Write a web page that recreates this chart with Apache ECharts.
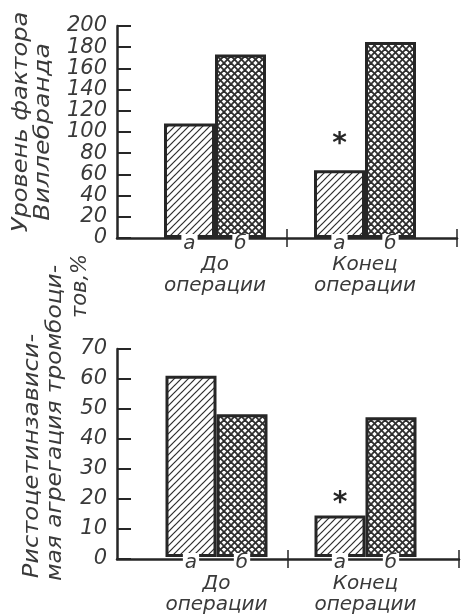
<!DOCTYPE html>
<html>
<head>
<meta charset="utf-8">
<script src="https://cdn.jsdelivr.net/npm/echarts@6/dist/echarts.min.js"></script>
<style>
html,body{margin:0;padding:0;background:#fff;}
#chart{width:461px;height:615px;}
</style>
</head>
<body>
<div id="chart"></div>
<script>
// ---- data ----
const categories = ['До\nоперации', 'Конец\nоперации'];
const barLetters = ['а', 'б'];
const vwfA = [108, 64];      // уровень фактора Виллебранда, а
const vwfB = [173, 185];     // уровень фактора Виллебранда, б
const ristA = [61, 14];      // ристоцетинзависимая агрегация, а
const ristB = [48, 47];      // ристоцетинзависимая агрегация, б
const vwfStar = { category: 1, value: 94 };
const ristStar = { category: 1, value: 20 };
const vwfAxis = { min: 0, max: 200, step: 20 };
const ristAxis = { min: 0, max: 70, step: 10 };
const vwfTitle = ['Уровень фактора', 'Виллебранда'];
const ristTitle = ['Ристоцетинзависи-', 'мая агрегация тромбоци-', 'тов,%'];

// ---- styles ----
const INK = '#262626';
const TXT = '#3a3a3a';
const FONT = 'DejaVu Sans';

function hatch(size, lw, both) {
  const c = document.createElement('canvas');
  c.width = c.height = size;
  const g = c.getContext('2d');
  g.fillStyle = '#fff'; g.fillRect(0, 0, size, size);
  g.strokeStyle = '#2e2e2e'; g.lineWidth = lw;
  const line = (x1, y1, x2, y2) => { g.beginPath(); g.moveTo(x1, y1); g.lineTo(x2, y2); g.stroke(); };
  line(-1, size + 1, size + 1, -1); line(-2, 2, 2, -2); line(size - 2, size + 2, size + 2, size - 2);
  if (both) { line(-1, -1, size + 1, size + 1); line(size - 2, -2, size + 2, 2); line(-2, size - 2, 2, size + 2); }
  return c;
}
const fillA = { image: hatch(7, 1.2, false), repeat: 'repeat' };
const fillB = { image: hatch(7, 1.8, true), repeat: 'repeat' };

const grids = [
  { left: 117, right: 4, top: 26, height: 212 },   // top axes
  { left: 140, right: 21, top: 26, height: 212 },  // top bars
  { left: 117, right: 2, top: 349, height: 210 },  // bottom axes
  { left: 142, right: 21, top: 349, height: 210 }  // bottom bars
];

function frameX(gi, inside, showLine) {
  return {
    type: 'value', gridIndex: gi, position: 'bottom', min: 0, max: 2, interval: 1,
    axisLine: { show: showLine, lineStyle: { color: INK, width: 2.5 } },
    axisTick: { show: true, inside: inside, length: 9, customValues: [1, 2], lineStyle: { color: INK, width: 1.5 } },
    axisLabel: { show: false }, splitLine: { show: false }
  };
}
function catX(gi) {
  return {
    type: 'category', gridIndex: gi, position: 'bottom', data: categories,
    axisLine: { show: false }, axisTick: { show: false }, splitLine: { show: false },
    axisLabel: { show: true, margin: 16, color: TXT, fontFamily: FONT, fontStyle: 'italic', fontSize: 20, lineHeight: 21 }
  };
}
function valY(gi, ax, show) {
  return {
    type: 'value', gridIndex: gi, min: ax.min, max: ax.max, interval: ax.step, show: show,
    axisLine: { show: true, lineStyle: { color: INK, width: 2.5 } },
    axisTick: { show: true, inside: true, length: 14, lineStyle: { color: INK, width: 2 } },
    axisLabel: { show: true, margin: 10, color: TXT, fontFamily: FONT, fontStyle: 'italic', fontSize: 21 },
    splitLine: { show: false }
  };
}
function letterLabel(ch) {
  return {
    show: true, position: 'bottom', distance: -4, formatter: ch,
    color: TXT, fontFamily: FONT, fontStyle: 'italic', fontSize: 20,
    backgroundColor: '#fff', padding: [0, 2, 0, 2]
  };
}
function star(s, cats) {
  return {
    symbol: 'circle', symbolSize: 1, itemStyle: { color: 'rgba(0,0,0,0)' },
    label: { show: true, position: 'inside', formatter: '*', fontSize: 28, fontWeight: 'bold', color: INK, fontFamily: FONT, offset: [0, 6] },
    data: [{ coord: [cats[s.category], s.value] }]
  };
}
function bar(xi, yi, data, fill, letter, mark) {
  const s = {
    type: 'bar', xAxisIndex: xi, yAxisIndex: yi, data: data,
    barWidth: 51, barGap: '0%',
    itemStyle: { color: fill, borderColor: INK, borderWidth: 3 },
    label: letterLabel(letter)
  };
  if (mark) s.markPoint = mark;
  return s;
}
function titles(lines, pos) {
  return lines.map((t, i) => ({
    type: 'text', x: pos[i][0], y: pos[i][1], rotation: Math.PI / 2, scaleX: pos[i][2],
    style: { text: t, fill: TXT, font: 'italic 21px "' + FONT + '"', textAlign: 'center', textVerticalAlign: 'middle' }
  }));
}

const option = {
  animation: false,
  backgroundColor: '#fff',
  grid: grids,
  xAxis: [frameX(0, false, true), frameX(0, true, false), catX(1),
          frameX(2, false, true), frameX(2, true, false), catX(3)],
  yAxis: [valY(0, vwfAxis, true), valY(1, vwfAxis, false),
          valY(2, ristAxis, true), valY(3, ristAxis, false)],
  series: [
    bar(2, 1, vwfA, fillA, barLetters[0], star(vwfStar, categories)),
    bar(2, 1, vwfB, fillB, barLetters[1]),
    bar(5, 3, ristA, fillA, barLetters[0], star(ristStar, categories)),
    bar(5, 3, ristB, fillB, barLetters[1])
  ],
  graphic: titles(vwfTitle, [[22, 122, 1.15], [44, 132, 1.2]])
    .concat(titles(ristTitle, [[33, 456, 1.15], [56, 423, 1.11], [81, 286, 1.0]]))
};

const chart = echarts.init(document.getElementById('chart'), null, { renderer: 'canvas' });
chart.setOption(option);
</script>
</body>
</html>
